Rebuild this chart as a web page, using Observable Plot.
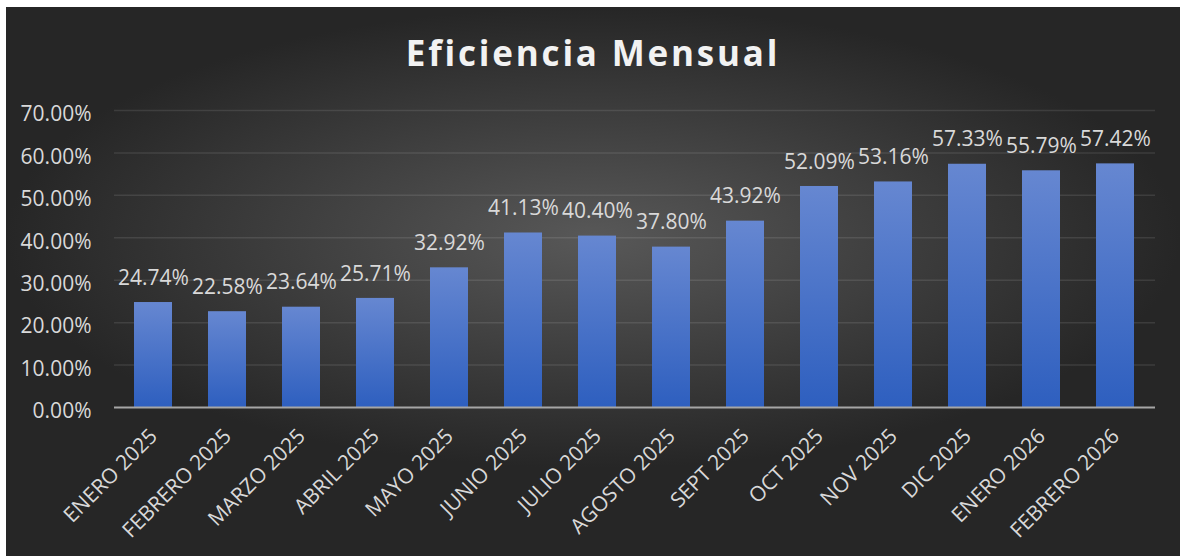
<!DOCTYPE html>
<html>
<head>
<meta charset="utf-8">
<script src="https://cdn.jsdelivr.net/npm/d3@7"></script>
<script src="https://cdn.jsdelivr.net/npm/@observablehq/plot@0.6"></script>
<style>
  html, body { margin: 0; padding: 0; background: #ffffff; }
  #card {
    position: absolute; left: 6px; top: 7px; width: 1174px; height: 549px;
    background: radial-gradient(ellipse closest-side at 50% 42%, #585858 0%, #262626 100%);
    overflow: hidden;
  }
  #title {
    position: absolute; left: 0; width: 1174px; top: 26px; text-align: center;
    font-family: "Open Sans", sans-serif; font-weight: 700; font-size: 35px;
    letter-spacing: 2.8px; color: #f2f2f2; line-height: 40px;
  }
  #chart { position: absolute; left: 0; top: 0; }
  g[aria-label="bars"] rect { filter: drop-shadow(3px 3px 3px rgba(0,0,0,0.55)); }
</style>
</head>
<body>
<div id="card">
  <div id="chart"></div>
  <div id="title">Eficiencia Mensual</div>
</div>
<script>
const months = ["ENERO 2025","FEBRERO 2025","MARZO 2025","ABRIL 2025","MAYO 2025","JUNIO 2025","JULIO 2025","AGOSTO 2025","SEPT 2025","OCT 2025","NOV 2025","DIC 2025","ENERO 2026","FEBRERO 2026"];
const efficiency = [24.74,22.58,23.64,25.71,32.92,41.13,40.40,37.80,43.92,52.09,53.16,57.33,55.79,57.42];
const yTicks = [0,10,20,30,40,50,60,70];

const data = months.map((m, i) => ({month: m, value: efficiency[i]}));
const fmt = d => d.toFixed(2) + "%";

const defs = () => {
  const d = d3.create("svg:defs");
  const g = d.append("linearGradient").attr("id", "barGrad").attr("x1", 0).attr("y1", 0).attr("x2", 0).attr("y2", 1);
  g.append("stop").attr("offset", "0%").attr("stop-color", "#6687d1");
  g.append("stop").attr("offset", "100%").attr("stop-color", "#2e5fbf");
  return d.node();
};

const chart = Plot.plot({
  width: 1174,
  height: 549,
  marginLeft: 108,
  marginRight: 25,
  marginTop: 103,
  marginBottom: 149,
  style: {background: "transparent", color: "#d9d9d9", fontFamily: "'Open Sans', sans-serif", fontSize: "21px", overflow: "visible"},
  x: {domain: months, paddingInner: 0.48, paddingOuter: 0.24, axis: null},
  y: {domain: [0, 70], axis: null},
  marks: [
    defs,
    Plot.ruleY(yTicks.filter(d => d > 0), {stroke: "#ffffff", strokeOpacity: 0.1, strokeWidth: 1.5}),
    Plot.text(yTicks, {y: d => d, text: d => fmt(d), frameAnchor: "left", textAnchor: "end", dx: -23, dy: 4, fill: "#d9d9d9", fontSize: 21}),
    Plot.barY(data, {x: "month", y: "value", fill: "url(#barGrad)", ariaLabel: "bars"}),
    Plot.ruleY([0], {stroke: "#a6a6a6", strokeWidth: 2}),
    Plot.text(data, {x: "month", y: "value", text: d => fmt(d.value), dy: -24.5, fill: "#d9d9d9", fontSize: 21}),
    Plot.text(months, {x: d => d, text: d => d, frameAnchor: "bottom", rotate: -45, textAnchor: "end", dx: 5, dy: 30, fill: "#d9d9d9", fontSize: 21})
  ]
});
document.getElementById("chart").appendChild(chart);
</script>
</body>
</html>
